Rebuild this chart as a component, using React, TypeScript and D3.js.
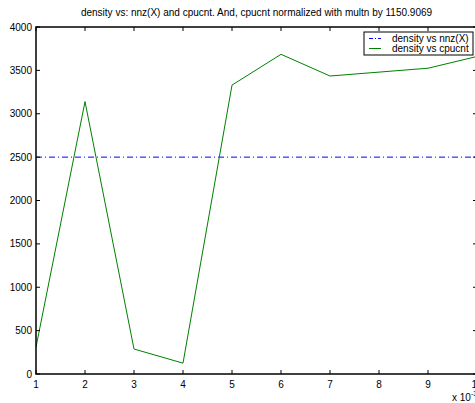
import React from "react";
import * as d3 from "d3";

const xValues = [1, 2, 3, 4, 5, 6, 7, 8, 9, 10];
const cpucnt = [310, 3140, 288, 125, 3330, 3685, 3435, 3480, 3525, 3660];
const nnzLevel = 2500;
const xTicks = [1, 2, 3, 4, 5, 6, 7, 8, 9, 10];
const yTicks = [0, 500, 1000, 1500, 2000, 2500, 3000, 3500, 4000];
const title = "density vs: nnz(X) and cpucnt. And, cpucnt normalized with multn by 1150.9069";
const legendLabels = ["density vs nnz(X)", "density vs cpucnt"];

export default function App() {
  const W = 475, H = 403;
  const left = 36, right = 477, top = 27, bottom = 374;
  const x = d3.scaleLinear().domain([1, 10]).range([left, right]);
  const y = d3.scaleLinear().domain([0, 4000]).range([bottom, top]);
  const line = d3.line<number>().x((_, i) => x(xValues[i])).y((d) => y(d));
  const font = "Liberation Sans, Arial, Helvetica, sans-serif";
  const tl = 4;
  return (
    <svg width={W} height={H} style={{ position: "fixed", left: 0, top: 0, background: "#fff" }} fontFamily={font}>
      <rect x={0} y={0} width={W} height={H} fill="#fff" />
      <text x={(left + right) / 2} y={16} fontSize={10} textAnchor="middle" fill="#000">{title}</text>
      {/* data */}
      <line x1={x(1)} x2={x(10)} y1={y(nnzLevel)} y2={y(nnzLevel)} stroke="#0000ff" strokeWidth={1} strokeDasharray="6,3,1,3" />
      <path d={line(cpucnt) || ""} fill="none" stroke="#008000" strokeWidth={1} />
      {/* axes box */}
      <rect x={left} y={top} width={right - left} height={bottom - top} fill="none" stroke="#000" strokeWidth={1.5} />
      {xTicks.map((t) => (
        <g key={"x" + t}>
          <line x1={x(t)} x2={x(t)} y1={bottom} y2={bottom - tl} stroke="#000" />
          <line x1={x(t)} x2={x(t)} y1={top} y2={top + tl} stroke="#000" />
          <text x={x(t)} y={388} fontSize={10} textAnchor="middle" fill="#000">{t}</text>
        </g>
      ))}
      {yTicks.map((t) => (
        <g key={"y" + t}>
          <line x1={left} x2={left + tl} y1={y(t)} y2={y(t)} stroke="#000" />
          <line x1={right} x2={right - tl} y1={y(t)} y2={y(t)} stroke="#000" />
          <text x={left - 4} y={y(t) + 3.5} fontSize={10} textAnchor="end" fill="#000">{t}</text>
        </g>
      ))}
      <text x={452} y={401} fontSize={10} fill="#000">x 10<tspan dy={-5} fontSize={7}>-3</tspan></text>
      {/* legend */}
      <rect x={364} y={32} width={109} height={23} fill="#fff" stroke="#000" strokeWidth={1} />
      <line x1={369} x2={381} y1={38.5} y2={38.5} stroke="#0000ff" strokeDasharray="4,2,1,2" />
      <line x1={369} x2={381} y1={48.5} y2={48.5} stroke="#008000" />
      <text x={392} y={42} fontSize={10} fill="#000">{legendLabels[0]}</text>
      <text x={392} y={52} fontSize={10} fill="#000">{legendLabels[1]}</text>
    </svg>
  );
}
